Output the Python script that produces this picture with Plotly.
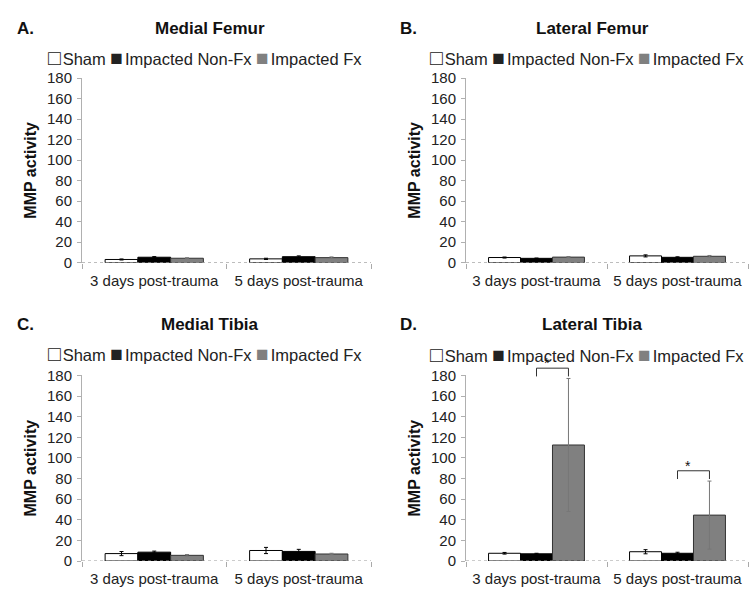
import plotly.graph_objects as go

# ---------------- data ----------------
categories = ["3 days post-trauma", "5 days post-trauma"]
groups = ["Sham", "Impacted Non-Fx", "Impacted Fx"]
panel_titles = ["Medial Femur", "Lateral Femur", "Medial Tibia", "Lateral Tibia"]
panel_letters = ["A.", "B.", "C.", "D."]

# Medial Femur
mf_sham = [3.1, 3.7];   mf_sham_err = [0.5, 0.6]
mf_nonfx = [5.3, 5.8];  mf_nonfx_err = [0.6, 0.8]
mf_fx = [4.3, 4.9];     mf_fx_err = [0.5, 0.7]
# Lateral Femur
lf_sham = [5.0, 6.6];   lf_sham_err = [0.5, 1.0]
lf_nonfx = [4.2, 5.2];  lf_nonfx_err = [0.3, 0.5]
lf_fx = [5.4, 6.2];     lf_fx_err = [0.6, 0.8]
# Medial Tibia
mt_sham = [7.2, 10.2];  mt_sham_err = [2.0, 3.0]
mt_nonfx = [8.6, 9.3];  mt_nonfx_err = [1.0, 2.0]
mt_fx = [5.5, 6.8];     mt_fx_err = [0.8, 0.7]
# Lateral Tibia
lt_sham = [7.5, 9.0];   lt_sham_err = [0.8, 2.0]
lt_nonfx = [7.0, 7.5];  lt_nonfx_err = [0.5, 1.0]
lt_fx = [112.5, 44.5];  lt_fx_err = [64.5, 33.0]

y_ticks = [0, 20, 40, 60, 80, 100, 120, 140, 160, 180]
Y_MAX = 180
# significance (Lateral Tibia): Non-Fx vs Fx at both time points
sig_panel = 3
sig_categories = [0, 1]

panel_data = [
    [(mf_sham, mf_sham_err), (mf_nonfx, mf_nonfx_err), (mf_fx, mf_fx_err)],
    [(lf_sham, lf_sham_err), (lf_nonfx, lf_nonfx_err), (lf_fx, lf_fx_err)],
    [(mt_sham, mt_sham_err), (mt_nonfx, mt_nonfx_err), (mt_fx, mt_fx_err)],
    [(lt_sham, lt_sham_err), (lt_nonfx, lt_nonfx_err), (lt_fx, lt_fx_err)],
]

# ---------------- style ----------------
W, H = 749, 604
FONT = "Liberation Sans, Arial, sans-serif"
fills = ["#ffffff", "#000000", "#808080"]
outlines = ["#000000", "#000000", "#333333"]
err_colors = ["#000000", "#000000", "#777777"]
BARGAP = 0.32

# pixel boxes of plot areas: (left, right, top(180), bottom(0))
boxes = [(82, 371, 71, 261), (466, 748, 71, 261),
         (82, 371, 377, 568), (466, 748, 377, 568)]
title_pos = [(210, 20), (592, 20), (210, 325), (592, 325)]
letter_pos = [(15, 20), (398, 20), (15, 325), (398, 325)]
legend_pos = [(205, 50), (587, 50), (205, 354), (587, 356)]

fig = go.Figure()
layout = dict(
    width=W, height=H, margin=dict(l=0, r=0, t=0, b=0),
    plot_bgcolor="white", paper_bgcolor="white",
    barmode="group", bargap=BARGAP, bargroupgap=0,
    showlegend=False, font=dict(family=FONT, color="#222"),
)
annotations = []
shapes = []
doms = []

for p in range(4):
    xa = "x" if p == 0 else f"x{p+1}"
    ya = "y" if p == 0 else f"y{p+1}"
    for g in range(3):
        vals, errs = panel_data[p][g]
        fig.add_trace(go.Bar(
            x=categories, y=vals, name=groups[g],
            marker=dict(color=fills[g], line=dict(color=outlines[g], width=1)),
            error_y=dict(type="data", array=errs, visible=True,
                         color=err_colors[g], thickness=1, width=2),
            xaxis=xa, yaxis=ya, offsetgroup=str(g),
        ))
    l, r, t, b = boxes[p]
    xdom = [l / W, r / W]
    ydom = [1 - b / H, 1 - t / H]
    doms.append((xdom, ydom))
    xkey = "xaxis" if p == 0 else f"xaxis{p+1}"
    ykey = "yaxis" if p == 0 else f"yaxis{p+1}"
    layout[xkey] = dict(
        domain=xdom, anchor=ya, type="category", range=[-0.5, 1.5],
        showline=False, ticks="outside", tickson="boundaries", ticklen=5,
        tickcolor="#aaaaaa", showgrid=False, zeroline=False,
        ticklabelstandoff=7,
        tickfont=dict(size=15, color="#222", family=FONT),
    )
    layout[ykey] = dict(
        domain=ydom, anchor=xa, range=[0, Y_MAX], tickvals=y_ticks,
        showline=True, linecolor="#b0b0b0", linewidth=1,
        ticks="outside", ticklen=4, tickcolor="#b0b0b0",
        showgrid=False, zeroline=False, ticklabelstandoff=2,
        tickfont=dict(size=15, color="#222", family=FONT),
        title=dict(text="<b>MMP activity</b>", standoff=6,
                   font=dict(size=16, color="#111", family=FONT)),
    )
    # dotted baseline
    shapes.append(dict(type="line", xref=f"{xa} domain", yref=ya,
                       x0=0, x1=1, y0=0, y1=0,
                       line=dict(color="#999999", width=1, dash="dot")))
    # titles / letters / legend
    tx, ty = title_pos[p]
    annotations.append(dict(text=f"<b>{panel_titles[p]}</b>", x=tx / W, y=1 - ty / H,
                            xref="paper", yref="paper", showarrow=False,
                            xanchor="center", yanchor="middle",
                            font=dict(size=17, color="#111", family=FONT)))
    lx, ly = letter_pos[p]
    annotations.append(dict(text=f"<b>{panel_letters[p]}</b>", x=lx / W, y=1 - ly / H,
                            xref="paper", yref="paper", showarrow=False,
                            xanchor="left", yanchor="middle",
                            font=dict(size=17, color="#111", family=FONT)))
    gx, gy = legend_pos[p]
    gap = "<span style='font-size:7px'> </span>"
    sq = "<span style='font-size:21px'>{}</span>" + gap
    leg = (sq.format("□") + groups[0] + " " +
           sq.format("■") + groups[1] + " " +
           "<span style='font-size:21px;color:#808080'>■</span>" + gap + groups[2])
    annotations.append(dict(text=leg, x=gx / W, y=1 - gy / H,
                            xref="paper", yref="paper", showarrow=False,
                            xanchor="center", yanchor="middle",
                            font=dict(size=16.5, color="#222", family=FONT)))


def to_paper(p, xv, yv):
    (x0d, x1d), (y0d, y1d) = doms[p]
    px = x0d + (xv + 0.5) / 2.0 * (x1d - x0d)
    py = y0d + yv / Y_MAX * (y1d - y0d)
    return px, py


# significance brackets in Lateral Tibia, computed from data
bar_w = (1 - BARGAP) / 3
fx_vals, fx_errs = panel_data[sig_panel][2]
for c in sig_categories:
    top = fx_vals[c] + fx_errs[c]
    ax0, ay_lo = to_paper(sig_panel, c + 0.0, top + 2)
    ax1, ay_hi = to_paper(sig_panel, c + bar_w, top + 10)
    shapes.append(dict(type="path", xref="paper", yref="paper",
                       path=f"M {ax0},{ay_lo} L {ax0},{ay_hi} L {ax1},{ay_hi} L {ax1},{ay_lo}",
                       line=dict(color="#333333", width=1)))
    annotations.append(dict(text="*", x=(ax0 + ax1) / 2, y=ay_hi, xref="paper", yref="paper",
                            showarrow=False, yanchor="bottom", yshift=-5,
                            font=dict(size=14, color="#111", family=FONT)))

layout["annotations"] = annotations
layout["shapes"] = shapes
fig.update_layout(**layout)
fig.write_html("out.html")
